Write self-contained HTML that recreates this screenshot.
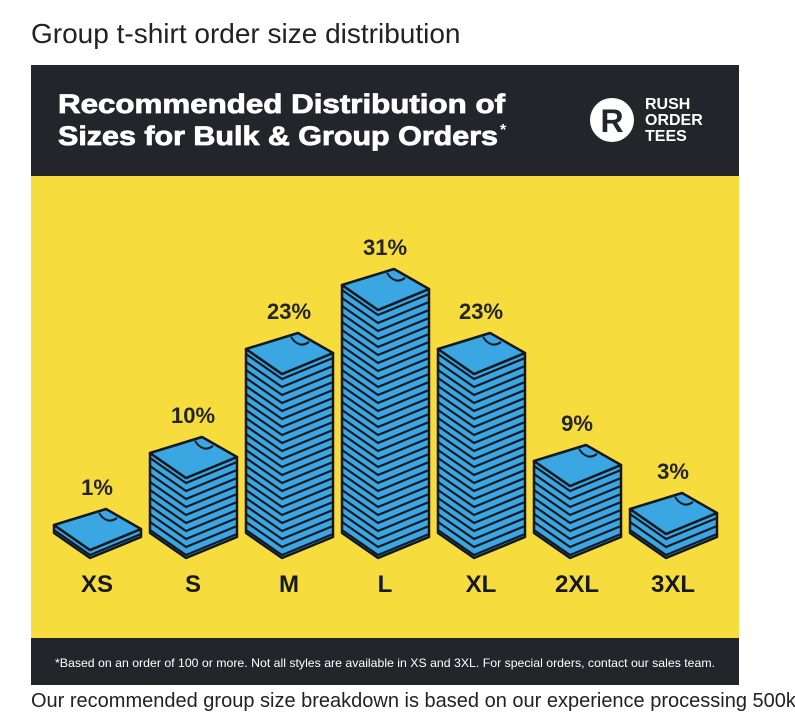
<!DOCTYPE html>
<html><head><meta charset="utf-8">
<style>
body{margin:0;width:795px;height:702px;background:#fff;overflow:hidden;font-family:"Liberation Sans",sans-serif;position:relative}
.t{position:absolute;left:31px;top:18px;font-size:28px;color:#222}
.b{position:absolute;left:31px;top:690px;font-size:20px;color:#222;white-space:nowrap}
</style></head><body>
<div class="t">Group t-shirt order size distribution</div>
<svg id="c" style="position:absolute;left:0;top:0" width="795" height="702">
<rect x="31" y="65" width="708" height="111" fill="#23252b"/>
<rect x="31" y="176" width="708" height="462" fill="#f6dc3c"/>
<rect x="31" y="638" width="708" height="47" fill="#23252b"/>
<text x="58" y="113" font-size="27" font-weight="bold" fill="#fff" stroke="#fff" stroke-width="0.8" textLength="447" lengthAdjust="spacingAndGlyphs">Recommended Distribution of</text>
<text x="58" y="145" font-size="27" font-weight="bold" fill="#fff" stroke="#fff" stroke-width="0.8" textLength="440" lengthAdjust="spacingAndGlyphs">Sizes for Bulk &amp; Group Orders</text>
<text x="500" y="135" font-size="16" font-weight="bold" fill="#fff">*</text>
<g>
<circle cx="612" cy="120" r="22" fill="#fff"/>
<text x="612" y="132" font-size="32" font-weight="bold" fill="#23252b" text-anchor="middle">R</text>
<text x="645" y="109" font-size="16" font-weight="bold" fill="#fff">RUSH</text>
<text x="645" y="125" font-size="16" font-weight="bold" fill="#fff">ORDER</text>
<text x="645" y="141" font-size="16" font-weight="bold" fill="#fff">TEES</text>
</g>
<text x="385" y="667" font-size="12" fill="#fff" text-anchor="middle" textLength="660" lengthAdjust="spacingAndGlyphs">*Based on an order of 100 or more. Not all styles are available in XS and 3XL. For special orders, contact our sales team.</text>
<g id="bars"></g>
</svg>
<div class="b">Our recommended group size breakdown is based on our experience processing 500k+</div>
<script>
const sizes=["XS","S","M","L","XL","2XL","3XL"];
const values=[1,10,23,31,23,9,3];
const NS="http://www.w3.org/2000/svg";
const g=document.getElementById('bars');
function xPos(i){return 97+i*96;}
function layerH(v){return v*8;}
const base=558;
function mk(t,a){const e=document.createElementNS(NS,t);for(const k in a)e.setAttribute(k,a[k]);g.appendChild(e);return e;}
sizes.forEach((s,i)=>{
  const v=values[i],cx=xPos(i),h=layerH(v),top=base-41-h;
  const L=[cx-43,top+16],T=[cx+9,top],R=[cx+44,top+20],B=[cx-7,top+41];
  const body=mk('polygon',{points:`${L} ${B} ${R} ${R[0]},${R[1]+h} ${B[0]},${B[1]+h} ${L[0]},${L[1]+h}`,fill:'#3ba7e2',stroke:'#15181f','stroke-width':2.5,'stroke-linejoin':'round'});
  
  
  for(let k=1;k<=v;k++){
    const d=k*8-3;
    mk('polyline',{points:`${L[0]},${L[1]+d} ${B[0]},${B[1]+d} ${R[0]},${R[1]+d}`,fill:'none',stroke:'#15181f','stroke-width':2.2});
  }
  const face=mk('polygon',{points:`${L} ${T} ${R} ${B}`,fill:'#3ba7e2',stroke:'#15181f','stroke-width':2.5,'stroke-linejoin':'round'});
  
  
  mk('path',{d:`M${cx+2},${top+4} q8,12 18,5`,fill:'none',stroke:'#15181f','stroke-width':2});
  const pl=mk('text',{x:cx,y:top-14,'font-size':22,'font-weight':'bold',fill:'#23252b','text-anchor':'middle'});
  pl.textContent=v+'%';
  
  
  const sl=mk('text',{x:cx,y:592,'font-size':24,'font-weight':'bold',fill:'#15181f','text-anchor':'middle'});
  sl.textContent=s;
  
  
});
</script>
</body></html>
